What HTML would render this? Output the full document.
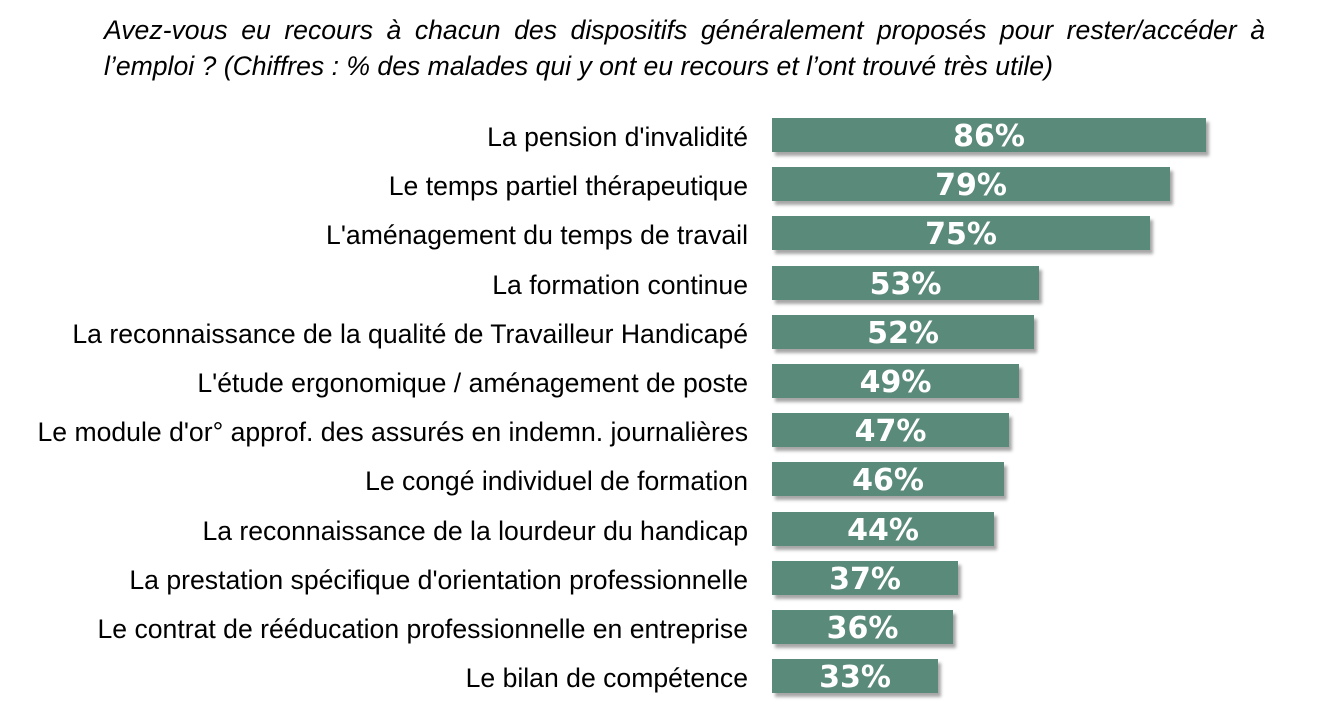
<!DOCTYPE html>
<html><head><meta charset="utf-8"><style>
body{margin:0;width:1326px;height:726px;background:#fff;position:relative;overflow:hidden;font-family:"Liberation Sans",Arial,sans-serif}
.t{position:absolute;left:104px;width:1161px;font-size:26.6px;line-height:36px;font-style:italic;color:#000;white-space:nowrap}
.l{position:absolute;right:578px;font-size:26.6px;color:#000;white-space:nowrap;height:34px;line-height:38px}
.b{position:absolute;left:772px;height:34px;background:#5a8a7a;box-shadow:3px 4px 3px rgba(0,0,0,0.35);color:#fff;font-family:"DejaVu Sans",sans-serif;font-weight:bold;font-size:30px;line-height:38px;text-align:center;white-space:nowrap}
</style></head><body>
<div class="t" style="top:12px;text-align:justify;text-align-last:justify;white-space:normal">Avez-vous eu recours à chacun des dispositifs généralement proposés pour rester/accéder à</div>
<div class="t" style="top:48px">l’emploi ? (Chiffres : % des malades qui y ont eu recours et l’ont trouvé très utile)</div>
<div class="l" style="top:118px">La pension d'invalidité</div><div class="b" style="top:118px;width:434px">86%</div>
<div class="l" style="top:167px">Le temps partiel thérapeutique</div><div class="b" style="top:167px;width:398px">79%</div>
<div class="l" style="top:216px">L'aménagement du temps de travail</div><div class="b" style="top:216px;width:378px">75%</div>
<div class="l" style="top:266px">La formation continue</div><div class="b" style="top:266px;width:267px">53%</div>
<div class="l" style="top:315px">La reconnaissance de la qualité de Travailleur Handicapé</div><div class="b" style="top:315px;width:262px">52%</div>
<div class="l" style="top:364px">L'étude ergonomique / aménagement de poste</div><div class="b" style="top:364px;width:247px">49%</div>
<div class="l" style="top:413px">Le module d'or° approf. des assurés en indemn. journalières</div><div class="b" style="top:413px;width:237px">47%</div>
<div class="l" style="top:462px">Le congé individuel de formation</div><div class="b" style="top:462px;width:232px">46%</div>
<div class="l" style="top:512px">La reconnaissance de la lourdeur du handicap</div><div class="b" style="top:512px;width:222px">44%</div>
<div class="l" style="top:561px">La prestation spécifique d'orientation professionnelle</div><div class="b" style="top:561px;width:186px">37%</div>
<div class="l" style="top:610px">Le contrat de rééducation professionnelle en entreprise</div><div class="b" style="top:610px;width:181px">36%</div>
<div class="l" style="top:659px">Le bilan de compétence</div><div class="b" style="top:659px;width:166px">33%</div>
</body></html>
